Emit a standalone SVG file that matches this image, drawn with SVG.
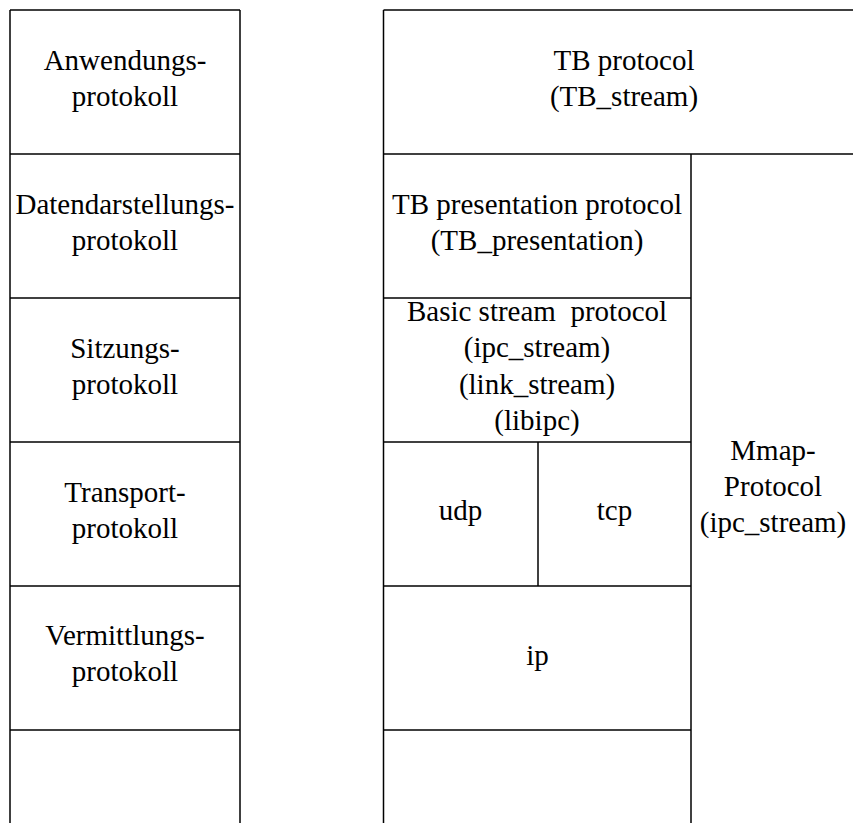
<svg xmlns="http://www.w3.org/2000/svg" width="853" height="823" viewBox="0 0 853 823">
  <style>
    .rule { stroke: #000; stroke-width: 1.5; fill: none; }
    .lbl { font-family: "Liberation Serif", "DejaVu Serif", serif; font-size: 29px; fill: #000; text-anchor: middle; }
  </style>
  <rect width="853" height="823" fill="#fff"/>

  <!-- Frame: OSI stack on the left, TB stack on the right -->
  <g id="frame">
    <g id="osi-frame" class="rule">
      <line x1="10" y1="10" x2="240" y2="10"/>
      <line x1="10" y1="10" x2="10" y2="823"/>
      <line x1="240" y1="10" x2="240" y2="823"/>
      <line x1="10" y1="154" x2="240" y2="154"/>
      <line x1="10" y1="298" x2="240" y2="298"/>
      <line x1="10" y1="442" x2="240" y2="442"/>
      <line x1="10" y1="586" x2="240" y2="586"/>
      <line x1="10" y1="730" x2="240" y2="730"/>
    </g>
    <g id="tb-frame" class="rule">
      <line x1="383.5" y1="10" x2="853" y2="10"/>
      <line x1="383.5" y1="10" x2="383.5" y2="823"/>
      <line x1="383.5" y1="154" x2="853" y2="154"/>
      <line x1="691" y1="154" x2="691" y2="823"/>
      <line x1="383.5" y1="298" x2="691" y2="298"/>
      <line x1="383.5" y1="442" x2="691" y2="442"/>
      <line x1="538" y1="442" x2="538" y2="586"/>
      <line x1="383.5" y1="586" x2="691" y2="586"/>
      <line x1="383.5" y1="730" x2="691" y2="730"/>
    </g>
  </g>

  <!-- OSI layers -->
  <g id="anwendung">
    <text class="lbl" x="125" y="70">Anwendungs-</text>
    <text class="lbl" x="125" y="106">protokoll</text>
  </g>
  <g id="darstellung">
    <text class="lbl" x="125" y="214">Datendarstellungs-</text>
    <text class="lbl" x="125" y="250">protokoll</text>
  </g>
  <g id="sitzung">
    <text class="lbl" x="125" y="358">Sitzungs-</text>
    <text class="lbl" x="125" y="394">protokoll</text>
  </g>
  <g id="transport">
    <text class="lbl" x="125" y="502">Transport-</text>
    <text class="lbl" x="125" y="538">protokoll</text>
  </g>
  <g id="vermittlung">
    <text class="lbl" x="125" y="645">Vermittlungs-</text>
    <text class="lbl" x="125" y="681">protokoll</text>
  </g>

  <!-- TB protocol stack -->
  <g id="tb-protocol">
    <text class="lbl" x="624" y="70">TB protocol</text>
    <text class="lbl" x="624" y="106">(TB_stream)</text>
  </g>
  <g id="tb-presentation">
    <text class="lbl" x="537" y="214">TB presentation protocol</text>
    <text class="lbl" x="537" y="250">(TB_presentation)</text>
  </g>
  <g id="basic-stream">
    <text class="lbl" x="537" y="321" xml:space="preserve">Basic stream  protocol</text>
    <text class="lbl" x="537" y="357">(ipc_stream)</text>
    <text class="lbl" x="537" y="394">(link_stream)</text>
    <text class="lbl" x="537" y="430">(libipc)</text>
  </g>
  <g id="udp">
    <text class="lbl" x="460.5" y="520">udp</text>
  </g>
  <g id="tcp">
    <text class="lbl" x="614.5" y="520">tcp</text>
  </g>
  <g id="ip">
    <text class="lbl" x="537.5" y="665">ip</text>
  </g>
  <g id="mmap">
    <text class="lbl" x="773" y="460">Mmap-</text>
    <text class="lbl" x="773" y="496">Protocol</text>
    <text class="lbl" x="773" y="532">(ipc_stream)</text>
  </g>
</svg>
